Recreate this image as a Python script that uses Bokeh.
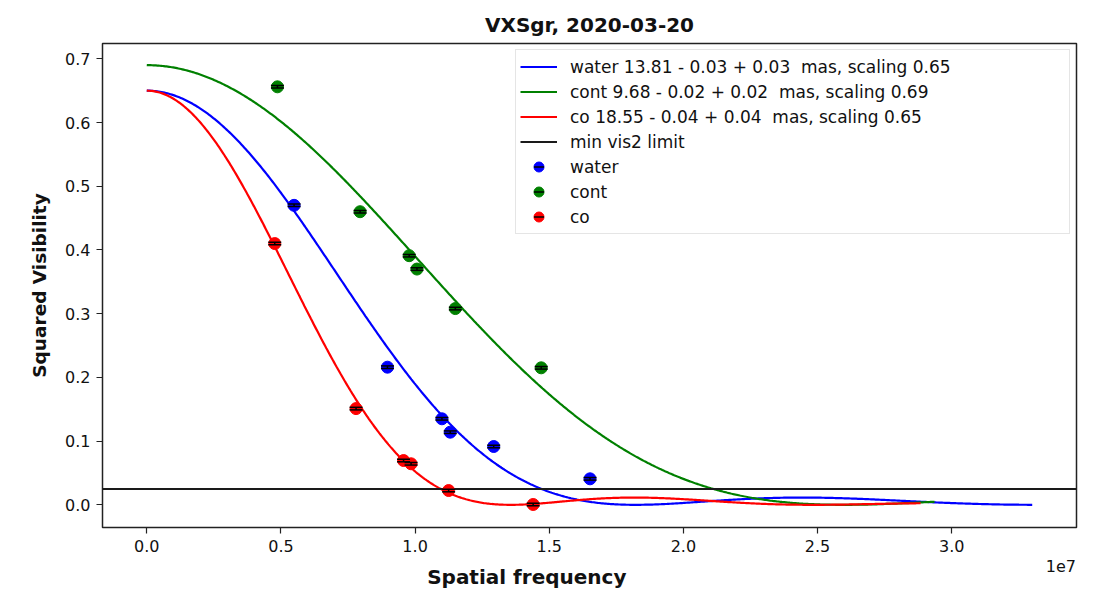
import numpy as np
from bokeh.plotting import figure
from bokeh.models import (Legend, LegendItem, FixedTicker, ColumnDataSource,
                          LinearAxis)
from bokeh.embed import file_html
from bokeh.resources import INLINE

# ---- measured squared visibilities (spatial frequency in cycles/rad) ----
water_f = [0.549e7, 0.897e7, 1.100e7, 1.131e7, 1.293e7, 1.652e7]
water_v2 = [0.470, 0.216, 0.135, 0.114, 0.0915, 0.0408]
water_err = [0.002, 0.002, 0.002, 0.002, 0.002, 0.002]

cont_f = [0.487e7, 0.795e7, 0.978e7, 1.007e7, 1.150e7, 1.470e7]
cont_v2 = [0.656, 0.460, 0.391, 0.370, 0.308, 0.215]
cont_err = [0.002, 0.002, 0.002, 0.002, 0.002, 0.002]

co_f = [0.477e7, 0.780e7, 0.957e7, 0.985e7, 1.125e7, 1.440e7]
co_v2 = [0.410, 0.151, 0.0695, 0.0644, 0.0224, 0.0005]
co_err = [0.002, 0.002, 0.002, 0.002, 0.002, 0.002]

# ---- uniform-disk fits: diameter (mas), errors, scaling, model extent ----
fit_names = ["water", "cont", "co"]
fit_diam_mas = [13.81, 9.68, 18.55]
fit_err_lo = [0.03, 0.02, 0.04]
fit_err_hi = [0.03, 0.02, 0.04]
fit_scaling = [0.65, 0.69, 0.65]
fit_fmax = [3.30e7, 2.936e7, 2.884e7]
colors = ["#0000ff", "#008000", "#ff0000"]

min_vis2 = 0.025

x_lo, x_hi = -0.165e7, 3.465e7
y_lo, y_hi = -0.0356, 0.724

x_ticks = [0.0, 0.5e7, 1.0e7, 1.5e7, 2.0e7, 2.5e7, 3.0e7]
x_tick_labels = ["0.0", "0.5", "1.0", "1.5", "2.0", "2.5", "3.0"]
y_ticks = [0.0, 0.1, 0.2, 0.3, 0.4, 0.5, 0.6, 0.7]
x_scale_text = "1e7"
x_scale_pos = 3.407e7

FONT = "DejaVu Sans"
INK = "#111111"
MAS = np.pi / 180.0 / 3600.0 / 1000.0


def bessel_j1(x):
    # J1(x) = 1/pi * integral_0^pi cos(t - x sin t) dt
    t = np.linspace(0.0, np.pi, 2001)
    vals = np.cos(t[None, :] - np.outer(x, np.sin(t)))
    return np.trapezoid(vals, t, axis=1) / np.pi


def ud_vis2(f, diam_mas, scale):
    z = np.pi * diam_mas * MAS * np.asarray(f)
    z = np.where(z == 0, 1e-12, z)
    return scale * (2.0 * bessel_j1(z) / z) ** 2


p = figure(
    width=1094, height=593,
    x_range=(x_lo, x_hi), y_range=(y_lo, y_hi),
    output_backend="svg", toolbar_location=None,
    min_border_left=102, min_border_right=18,
    min_border_top=43, min_border_bottom=66,
    title="VXSgr, 2020-03-20",
)
p.background_fill_color = "white"
p.border_fill_color = "white"
p.grid.visible = False
p.outline_line_color = "#222222"
p.outline_line_width = 1.5

p.title.align = "center"
p.title.text_font = FONT
p.title.text_font_size = "20px"
p.title.text_font_style = "bold"
p.title.text_color = INK
p.title.standoff = 14

for ax in (p.xaxis[0], p.yaxis[0]):
    ax.axis_line_color = None
    ax.major_tick_line_color = "#222222"
    ax.major_tick_line_width = 1.2
    ax.major_tick_in = 0
    ax.major_tick_out = 6
    ax.minor_tick_line_color = None
    ax.major_label_text_font = FONT
    ax.major_label_text_font_size = "16px"
    ax.major_label_text_color = INK
    ax.major_label_standoff = 6

p.xaxis.ticker = FixedTicker(ticks=x_ticks)
p.xaxis.major_label_overrides = {t: s for t, s in zip(x_ticks, x_tick_labels)}
p.yaxis.ticker = FixedTicker(ticks=y_ticks)
p.yaxis.major_label_overrides = {t: f"{t:.1f}" for t in y_ticks}

p.yaxis.axis_label = "Squared Visibility"
p.yaxis.axis_label_text_font = FONT
p.yaxis.axis_label_text_font_size = "18.5px"
p.yaxis.axis_label_text_font_style = "bold"
p.yaxis.axis_label_text_color = INK
p.yaxis.axis_label_standoff = 12

# second bottom axis: carries the 1e7 multiplier and the axis title
scale_axis = LinearAxis(
    ticker=FixedTicker(ticks=[x_scale_pos]),
    major_label_overrides={x_scale_pos: x_scale_text},
    axis_line_color=None, major_tick_line_color=None, minor_tick_line_color=None,
    major_tick_out=0, major_tick_in=0, major_label_standoff=5,
    major_label_text_font=FONT, major_label_text_font_size="16px",
    major_label_text_color=INK,
    axis_label="Spatial frequency" + "\u00a0" * 18,
    axis_label_standoff=-10,
    axis_label_text_font=FONT, axis_label_text_font_size="20px",
    axis_label_text_font_style="bold", axis_label_text_color=INK,
)
p.add_layout(scale_axis, "below")

# model curves
line_renderers = []
for diam, sc, fmax, col in zip(fit_diam_mas, fit_scaling, fit_fmax, colors):
    f = np.linspace(0.0, fmax, 600)
    r = p.line(f, ud_vis2(f, diam, sc), line_color=col, line_width=2.2)
    line_renderers.append(r)

# lower visibility limit across the full axis
limit_r = p.line([x_lo, x_hi], [min_vis2, min_vis2], line_color="#1a1a1a", line_width=2)

# data points with (tiny) error bars
point_renderers = []
for fx, vy, err, col in zip([water_f, cont_f, co_f], [water_v2, cont_v2, co_v2],
                            [water_err, cont_err, co_err], colors):
    src = ColumnDataSource(dict(x=fx, y=vy,
                                lo=[a - b for a, b in zip(vy, err)],
                                hi=[a + b for a, b in zip(vy, err)]))
    c = p.scatter("x", "y", source=src, marker="circle", size=12,
                  fill_color=col, line_color=col, line_width=1)
    p.segment("x", "lo", "x", "hi", source=src, line_color="black", line_width=1.5)
    cap_lo = p.scatter("x", "lo", source=src, marker="dash", size=13,
                       line_color="black", line_width=1.5)
    cap_hi = p.scatter("x", "hi", source=src, marker="dash", size=13,
                       line_color="black", line_width=1.5)
    point_renderers.append([c, cap_hi])

items = []
for name, d, lo, hi, sc, r in zip(fit_names, fit_diam_mas, fit_err_lo, fit_err_hi,
                                  fit_scaling, line_renderers):
    items.append(LegendItem(label=f"{name} {d:.2f} - {lo:.2f} + {hi:.2f}  mas, scaling {sc:.2f}",
                            renderers=[r]))
items.append(LegendItem(label="min vis2 limit", renderers=[limit_r]))
for name, rs in zip(fit_names, point_renderers):
    items.append(LegendItem(label=name, renderers=rs))

legend = Legend(items=items, location="top_right", margin=6,
                padding=4, spacing=0, glyph_width=37, glyph_height=25,
                label_height=25, label_standoff=13, label_width=495,
                label_text_font=FONT, label_text_font_size="17px",
                label_text_color=INK,
                border_line_color="#cccccc", border_line_width=1,
                background_fill_color="white", background_fill_alpha=0.85)
p.add_layout(legend)

open("out.html", "w").write(file_html(p, INLINE))
